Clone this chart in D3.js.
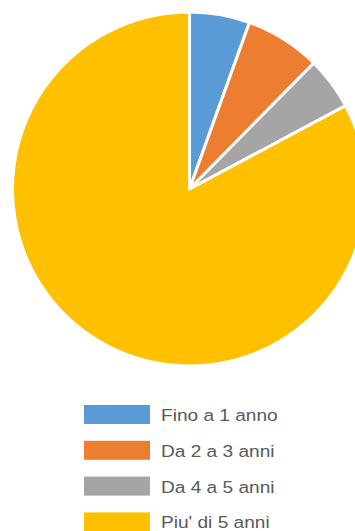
<!DOCTYPE html>
<html>
<head>
<meta charset="utf-8">
<script src="https://cdn.jsdelivr.net/npm/d3@7"></script>
<style>
  html, body { margin: 0; padding: 0; background: #fff; }
  svg { display: block; }
</style>
</head>
<body>
<svg id="chart" width="355" height="531"></svg>
<script>
const categories = ["Fino a 1 anno", "Da 2 a 3 anni", "Da 4 a 5 anni", "Piu' di 5 anni"];
const values = [5.5, 6.9, 4.8, 82.8];
const colors = ["#5B9BD5", "#ED7D31", "#A5A5A5", "#FFC000"];

const svg = d3.select("#chart");
const cx = 189.5, cy = 189, r = 177;

const data = categories.map((c, i) => ({ name: c, value: values[i], color: colors[i] }));
const pie = d3.pie().value(d => d.value).sort(null);
const arc = d3.arc().innerRadius(0).outerRadius(r);

svg.append("g")
  .attr("transform", `translate(${cx},${cy})`)
  .selectAll("path")
  .data(pie(data))
  .join("path")
  .attr("d", arc)
  .attr("fill", d => d.data.color)
  .attr("stroke", "#fff")
  .attr("stroke-width", 3)
  .attr("stroke-linejoin", "round");

const legendY = d3.scaleLinear().domain([0, 1]).range([405, 440.8]);
const lg = svg.append("g");
const rows = lg.selectAll("g").data(data).join("g")
  .attr("transform", (d, i) => `translate(84,${legendY(i)})`);
rows.append("rect")
  .attr("width", 66).attr("height", 19)
  .attr("fill", d => d.color);
rows.append("text")
  .attr("transform", "translate(77,16) scale(1.15,1)")
  .attr("font-family", "Liberation Sans, Arial, sans-serif")
  .attr("font-size", 16.6)
  .attr("fill", "#595959")
  .text(d => d.name);
</script>
</body>
</html>
